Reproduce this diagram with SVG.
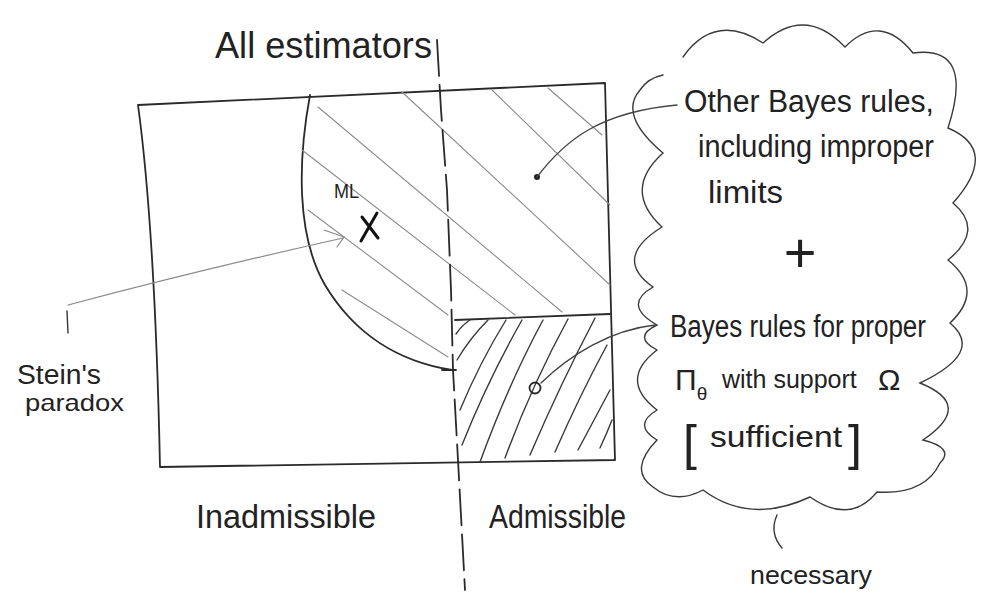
<svg xmlns="http://www.w3.org/2000/svg" width="982" height="601" viewBox="0 0 982 601">
<style>
  .ink { fill: none; stroke: #2a2a2a; stroke-width: 1.8; stroke-linecap: round; stroke-linejoin: round; }
  .thin { fill: none; stroke: #3a3a3a; stroke-width: 1.4; stroke-linecap: round; }
  .light { fill: none; stroke: #8c8c8c; stroke-width: 1.1; stroke-linecap: round; }
  .conn { fill: none; stroke: #444; stroke-width: 1.4; stroke-linecap: round; }
  .conn-light { fill: none; stroke: #888; stroke-width: 1.2; stroke-linecap: round; }
  .dash { fill: none; stroke: #2a2a2a; stroke-width: 1.8; stroke-dasharray: 36 9; stroke-linecap: round; }
  text { font-family: "Liberation Sans", "DejaVu Sans", sans-serif; fill: #222; }
</style>
<rect width="982" height="601" fill="#ffffff"/>

<g id="all-estimators">
  <path class="ink" d="M138,105 L605,83 Q610,270 615,460 L160,467 Q155,230 138,105 Z"/>
  <text x="215" y="58" font-size="36" textLength="217" lengthAdjust="spacingAndGlyphs">All estimators</text>
</g>

<g id="bayes-region">
  <path class="ink" d="M310,95 C298,160 296,235 325,285 C355,335 400,362 452,370"/>
  <path class="ink" d="M442,370 L456,370"/>
  <g id="upper-hatch">
    <path class="light" d="M318,107 L562,312"/>
    <path class="light" d="M302,150 L515,315"/>
    <path class="light" d="M308,210 L448,315"/>
    <path class="light" d="M342,290 L448,357"/>
    <path class="light" d="M402,92 L610,285"/>
    <path class="light" d="M492,90 L610,205"/>
    <path class="light" d="M548,88 L602,135"/>
  </g>
  <circle cx="537" cy="177" r="3" fill="#222"/>
</g>

<g id="proper-bayes-region">
  <path class="ink" d="M455,320 L610,314"/>
  <g id="lower-hatch">
    <path class="thin" d="M456,334 Q462,325 470,320"/>
    <path class="thin" d="M457,360 Q470,338 488,320"/>
    <path class="thin" d="M460,410 Q480,362 506,320"/>
    <path class="thin" d="M462,445 Q488,380 522,320"/>
    <path class="thin" d="M480,462 Q508,385 543,320"/>
    <path class="thin" d="M505,458 Q532,385 568,319"/>
    <path class="thin" d="M530,455 Q560,385 595,318"/>
    <path class="thin" d="M555,452 Q580,395 607,345"/>
    <path class="thin" d="M578,450 Q595,418 610,390"/>
    <path class="thin" d="M600,448 Q607,433 612,420"/>
  </g>
  <circle cx="535" cy="388" r="5.5" fill="none" stroke="#2a2a2a" stroke-width="1.8"/>
</g>

<g id="divider">
  <path class="dash" d="M437,40 L441,110 L447,190 L451,290 L453,370 L458,460 L465,590"/>
</g>

<g id="ml">
  <text x="334" y="198" font-size="20" textLength="25" lengthAdjust="spacingAndGlyphs">ML</text>
  <path d="M362,217 L378,238 M377,213 L361,241" fill="none" stroke="#111" stroke-width="3" stroke-linecap="round"/>
</g>

<g id="steins-paradox">
  <path class="thin" d="M67,311 L68,333"/>
  <text x="17" y="384" font-size="27" textLength="84" lengthAdjust="spacingAndGlyphs">Stein's</text>
  <text x="25" y="411" font-size="24" textLength="99" lengthAdjust="spacingAndGlyphs">paradox</text>
</g>

<g id="labels">
  <text x="196" y="528" font-size="34" textLength="180" lengthAdjust="spacingAndGlyphs">Inadmissible</text>
  <text x="489" y="528" font-size="33" textLength="137" lengthAdjust="spacingAndGlyphs">Admissible</text>
</g>

<g id="cloud">
  <path class="thin" d="M683,57 Q715,12 763,43 Q805,5 845,47 Q880,12 913,53 Q975,45 948,128 Q1000,150 953,203 Q985,230 948,260 Q985,290 950,323 Q985,352 920,383 Q975,405 923,440 Q955,448 940,463 Q925,495 877,492 Q850,525 810,497 Q750,525 703,490 Q675,505 653,487 Q628,470 657,440 Q632,425 657,410 Q618,380 657,350 Q632,337 657,325 Q622,305 653,287 Q612,258 662,227 Q622,190 663,153 Q618,115 640,90 Q648,78 663,75"/>
  <text x="684" y="112" font-size="31" textLength="250" lengthAdjust="spacingAndGlyphs">Other Bayes rules,</text>
  <text x="698" y="157" font-size="31" textLength="236" lengthAdjust="spacingAndGlyphs">including improper</text>
  <text x="708" y="203" font-size="31" textLength="75" lengthAdjust="spacingAndGlyphs">limits</text>
  <text x="800" y="272" font-size="56" text-anchor="middle">+</text>
  <text x="670" y="337" font-size="31" textLength="256" lengthAdjust="spacingAndGlyphs">Bayes rules for proper</text>
  <text x="675" y="390" font-size="30">Π<tspan font-size="19" dy="10">θ</tspan></text>
  <text x="722" y="388" font-size="25">with support</text>
  <text x="878" y="390" font-size="30">Ω</text>
  <text x="683" y="460" font-size="30"><tspan font-size="50">[</tspan><tspan x="710" dy="-13" textLength="132" lengthAdjust="spacingAndGlyphs">sufficient</tspan><tspan x="848" dy="13" font-size="50">]</tspan></text>
</g>

<g id="necessary">
  <path class="thin" d="M777,515 Q769,533 782,548"/>
  <text x="750" y="584" font-size="26" textLength="122" lengthAdjust="spacingAndGlyphs">necessary</text>
</g>

<g id="connectors">
  <path class="conn-light" d="M68,305 Q200,270 343,238"/>
  <path class="conn-light" d="M324,230 L344,237 L337,247"/>
  <path class="conn" d="M537,177 C565,140 600,112 677,105"/>
  <path class="conn" d="M541,383 C570,355 610,330 655,325"/>
</g>
</svg>
